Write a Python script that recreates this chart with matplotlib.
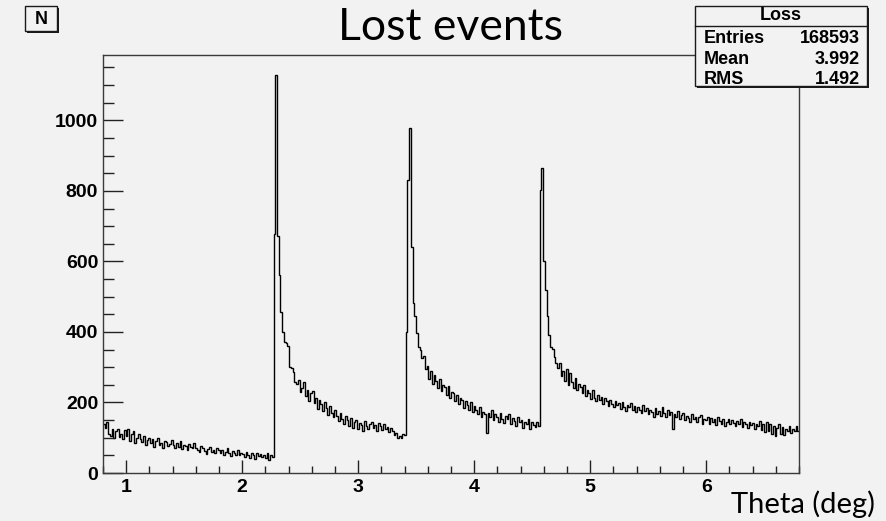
import numpy as np
import matplotlib.pyplot as plt
from matplotlib.patches import Rectangle
from matplotlib.ticker import MultipleLocator

# bin contents, 400 bins of 0.015 deg from 0.8 to 6.8
low_tail = [140, 128, 146, 112, 104, 124, 98, 118, 126, 102, 110, 96, 121,
            104, 126, 92, 110, 118, 84, 100, 112, 96, 88, 104, 78, 94, 100,
            86, 96, 74, 90, 98, 80, 84, 70, 92, 88, 76, 82, 94,
            78, 70, 86, 74, 92, 68, 80, 76, 64, 82, 74, 70, 84,
            72, 66, 60, 76, 70, 62, 54, 68, 74, 60, 66, 58, 70, 64,
            58, 66, 52, 60, 70, 56, 48, 62, 58, 52, 64, 50, 58,
            54, 46, 60, 50, 42, 56, 52, 40, 58, 48, 54, 44, 50,
            42, 56, 38, 52, 46]
first_edge = [679, 1129, 671, 562, 458, 401, 372, 368, 360, 301, 298, 287, 259,
              252, 264, 230, 242, 258, 218, 236, 204, 226, 232,
              198, 214, 182, 206, 196, 176, 202, 184, 164, 190,
              170, 158, 178, 162, 148, 170, 152, 140, 162, 150,
              134, 156, 128, 146, 150, 126, 142, 136, 120, 148,
              132, 124, 140, 146, 128, 136, 118, 142, 134, 122,
              138, 126, 130, 116, 128, 120, 108, 114, 100, 106,
              98, 112, 108]
second_edge = [401, 832, 979, 640, 482, 444, 397, 358, 349, 326,
               332, 296, 304, 268, 290, 252, 278, 262, 240, 268,
               232, 250, 244, 222, 246, 214, 230, 226, 204, 220,
               196, 214, 208, 184, 204, 192, 180, 200, 172, 190,
               178, 166, 188, 160, 174, 168, 113, 170, 160, 178,
               150, 166, 158, 146, 170, 154, 142, 162, 152, 166,
               138, 156, 148, 132, 158, 144, 150, 128, 146, 140,
               152, 126, 144, 136, 130, 146, 134]
third_edge = [803, 866, 600, 520, 444, 390, 358, 352, 330, 311,
              298, 312, 276, 288, 262, 294, 250, 284, 258, 242,
              270, 236, 252, 244, 226, 250, 218, 234, 228, 210,
              236, 214, 204, 222, 208, 216, 196, 212, 204, 190,
              208, 196, 186, 204, 192, 198, 182, 200, 188, 176,
              194, 186, 198, 178, 190, 172, 188, 180, 170, 192,
              176, 184, 166, 180, 174, 160, 184, 168, 176, 162,
              186, 170, 158, 178, 164, 172, 126, 166, 158, 176,
              152, 164, 170, 150, 162, 156, 144, 168, 152, 160,
              146, 158, 164, 140, 154, 150, 160, 138, 156, 146,
              152, 136, 158, 148, 140, 152, 132, 146, 154, 138,
              150, 142, 134, 148, 140, 152, 130, 144, 138, 128,
              146, 136, 142, 126, 140, 134, 148, 122, 138, 116,
              144, 120, 140, 110, 134, 106, 128, 138, 112, 130,
              108, 124, 118, 132, 114, 126, 120, 132, 118]

counts = low_tail + first_edge + second_edge + third_edge
theta_min, theta_max = 0.8, 6.8
edges = np.linspace(theta_min, theta_max, len(counts) + 1)

hist_name = 'Loss'
stats_labels = ['Entries', 'Mean', 'RMS']
stats_values = ['168593', '3.992', '1.492']
x_ticks = [1, 2, 3, 4, 5, 6]
y_ticks = [0, 200, 400, 600, 800, 1000]

W, H = 886, 521
bg = '#f2f2f2'


def fx(px):
    return px / W


def fy(py):
    return 1 - py / H


fig = plt.figure(figsize=(W / 100, H / 100), dpi=100, facecolor=bg)
ax = fig.add_axes([fx(103), fy(473), (799 - 103) / W, (473 - 55) / H])
ax.set_facecolor(bg)

ax.stairs(counts, edges, baseline=None, color='black', lw=1.0)

ax.set_xlim(theta_min, theta_max)
ax.set_ylim(0, 1.05 * max(counts))
ax.set_xticks(x_ticks)
ax.set_yticks(y_ticks)
ax.xaxis.set_minor_locator(MultipleLocator(0.2))
ax.yaxis.set_minor_locator(MultipleLocator(50))

for s in ax.spines.values():
    s.set_color('#3a3a3a')
    s.set_linewidth(1.0)

ax.tick_params(axis='y', which='major', direction='in', length=14.4, width=1,
               color='#222222', pad=3.5)
ax.tick_params(axis='y', which='minor', direction='in', length=8, width=1,
               color='#222222')
ax.tick_params(axis='x', which='major', direction='in', length=9.1, width=1,
               color='#222222', pad=4)
ax.tick_params(axis='x', which='minor', direction='in', length=4.8, width=1,
               color='#222222')
for lab in ax.get_xticklabels() + ax.get_yticklabels():
    lab.set_fontfamily('Liberation Sans')
    lab.set_fontweight('bold')
    lab.set_fontsize(14)

fig.text(fx(450), fy(28), 'Lost events', ha='center', va='center',
         fontsize=32, family='Lato')
fig.text(fx(803), fy(504), 'Theta (deg)', ha='center', va='center',
         fontsize=21, family='Lato')


def box(x0, y0, x1, y1):
    # ROOT style pave: dark shadow below/right, then the box itself
    fig.add_artist(Rectangle((fx(x0 + 2), fy(y1 + 2)), (x1 - x0) / W,
                             (y1 - y0) / H, transform=fig.transFigure,
                             facecolor='#1a1a1a', edgecolor='none', zorder=5))
    fig.add_artist(Rectangle((fx(x0), fy(y1)), (x1 - x0) / W, (y1 - y0) / H,
                             transform=fig.transFigure, facecolor=bg,
                             edgecolor='#1a1a1a', lw=1, zorder=6))


box(25, 6, 57, 31)
fig.text(fx(41), fy(19), 'N', ha='center', va='center', fontsize=13,
         family='Liberation Sans', weight='bold', zorder=7)

box(695, 6, 867, 86)
fig.add_artist(plt.Line2D([fx(695), fx(867)], [fy(26), fy(26)],
                          transform=fig.transFigure, color='#1a1a1a', lw=1,
                          zorder=7))
fig.text(fx(781), fy(16), hist_name, ha='center', va='center', fontsize=13,
         family='Liberation Sans', weight='bold', zorder=7)
for i, (lab, val) in enumerate(zip(stats_labels, stats_values)):
    yy = fy(38.5 + 20.5 * i)
    fig.text(fx(704), yy, lab, ha='left', va='center', fontsize=13,
             family='Liberation Sans', weight='bold', zorder=7)
    fig.text(fx(860), yy, val, ha='right', va='center', fontsize=13,
             family='Liberation Sans', weight='bold', zorder=7)

fig.savefig('out.png', dpi=100, facecolor=bg)
